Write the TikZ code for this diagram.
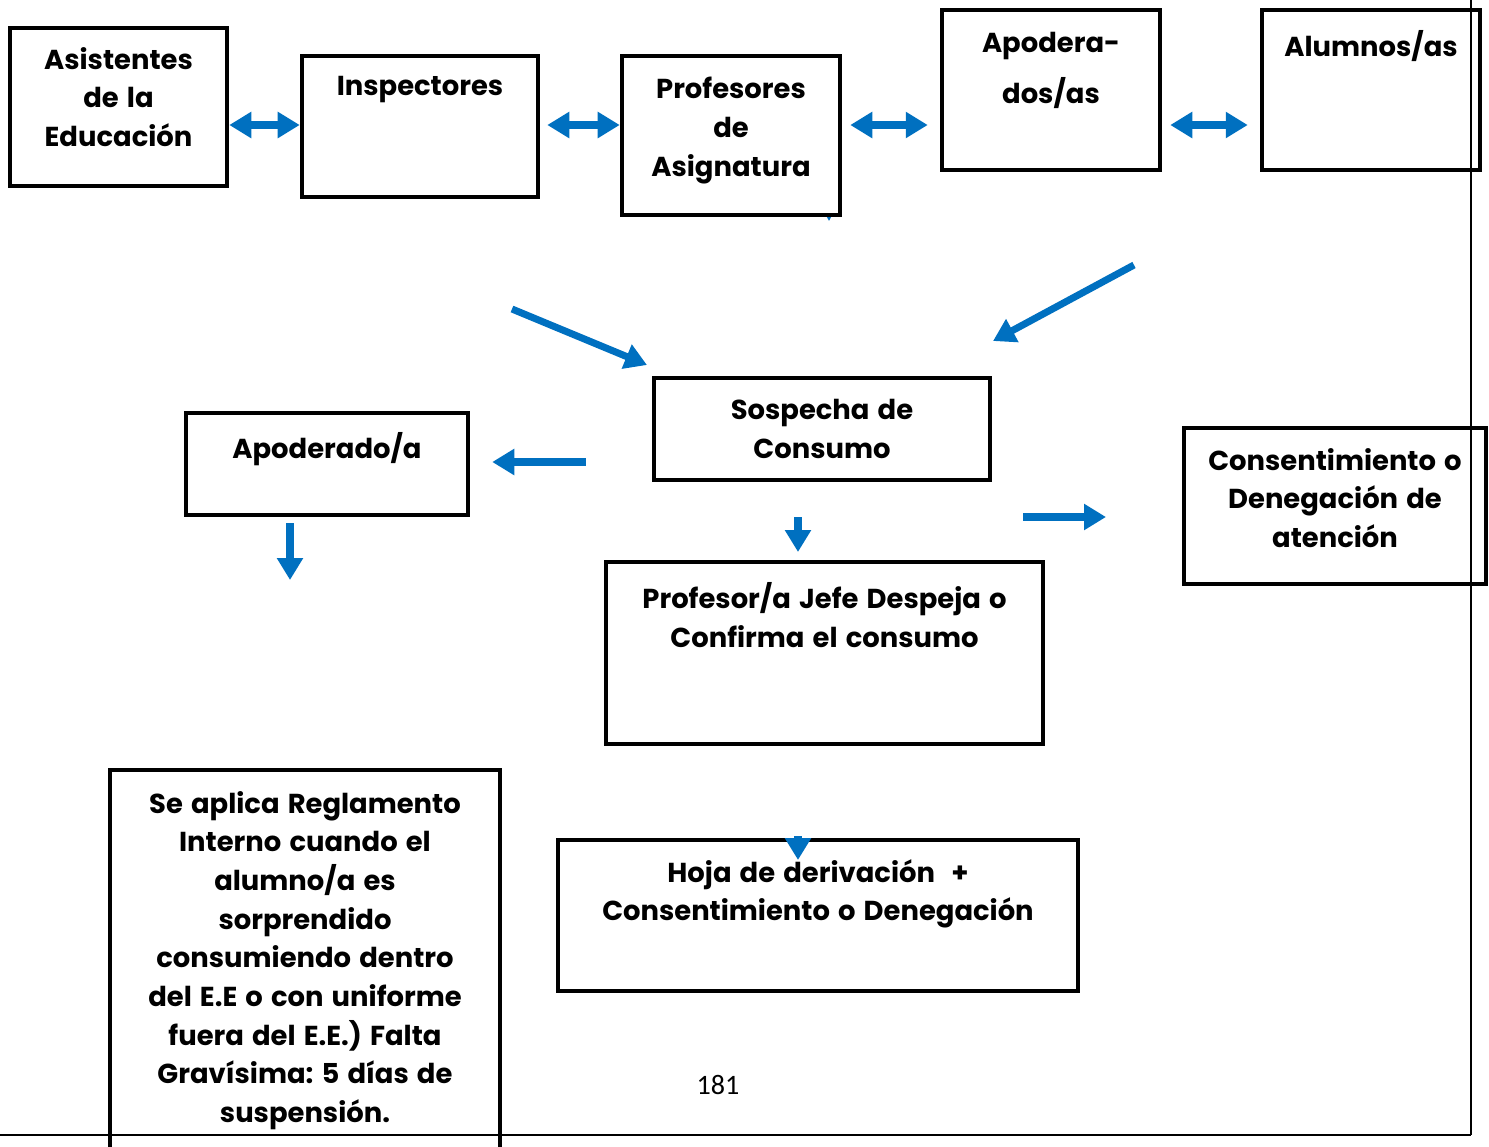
\documentclass[tikz,border=0pt]{standalone}
\usepackage{fontspec}
\setmainfont{Poppins}[WordSpace=1.4]
\newfontfamily\pagefont{Carlito}
\frenchspacing
\usetikzlibrary{arrows.meta}
\definecolor{flowblue}{RGB}{0,112,192}
\tikzstyle{box}=[draw,line width=2.6pt,fill=white,inner sep=0pt]
\tikzstyle{boxtext}=[anchor=north,align=center,inner sep=0pt,font=\bfseries\fontsize{15.6}{22}\selectfont]
\tikzstyle{flow}=[draw=flowblue,line width=4pt,-{Triangle[length=0.44cm,width=0.5cm]}]
\tikzstyle{flowboth}=[flow,{Triangle[length=0.44cm,width=0.5cm]}-{Triangle[length=0.44cm,width=0.5cm]}]
\tikzstyle{frame}=[line width=1.2pt]

\begin{document}
\begin{tikzpicture}[x=0.02cm,y=-0.02cm]
    \useasboundingbox (0,0) rectangle (1489,1147);

    % floating arrow ends
    \coordinate (hidA) at (829,180);
    \coordinate (hidB) at (829,221);
    \coordinate (diagLa) at (512,309);
    \coordinate (diagLb) at (647,365);
    \coordinate (diagRa) at (1134,265);
    \coordinate (diagRb) at (993,341);
    \coordinate (downMa) at (798,517);
    \coordinate (downMb) at (798,552);
    \coordinate (rightA) at (1023,517);
    \coordinate (rightB) at (1106,517);
    \coordinate (downLa) at (290,523);
    \coordinate (downLb) at (290,580);
    \coordinate (hojaA) at (798,836);
    \coordinate (hojaB) at (798,860);

    % arrow hidden under the boxes
    \draw[draw=flowblue,line width=1pt,-{Triangle[length=0.16cm,width=0.16cm]}] (hidA) -- (hidB);

    % top row
    \node[box,minimum width=4.34cm,minimum height=3.16cm] (asist) at (118.5,107) {};
    \node[boxtext] (asist-t) at (118.5,47) {Asistentes\\de la\\Educación};
    \node[box,minimum width=4.72cm,minimum height=2.82cm] (insp) at (420,126.5) {};
    \node[boxtext] (insp-t) at (420,76) {Inspectores};
    \node[box,minimum width=4.36cm,minimum height=3.18cm] (prof) at (731,135.5) {};
    \node[boxtext] (prof-t) at (731,77) {Profesores\\de\\Asignatura};
    \node[box,minimum width=4.36cm,minimum height=3.2cm] (apods) at (1051,90) {};
    \node[boxtext] (apods-t) at (1051,32) {Apodera-\\[0.24cm]dos/as};
    \node[box,minimum width=4.36cm,minimum height=3.2cm] (alum) at (1371,90) {};
    \node[boxtext] (alum-t) at (1371,30) {Alumnos/as};

    % middle row
    \node[box,minimum width=6.72cm,minimum height=2.04cm] (sosp) at (822,429) {};
    \node[boxtext] (sosp-t) at (822,399) {Sospecha de\\Consumo};
    \node[box,minimum width=5.64cm,minimum height=2.04cm] (apod) at (327,464) {};
    \node[boxtext] (apod-t) at (327,432) {Apoderado/a};
    \node[box,minimum width=6.04cm,minimum height=3.12cm] (cons) at (1335,506) {};
    \node[boxtext] (cons-t) at (1335,448) {Consentimiento o\\Denegación de\\atención};
    \node[box,minimum width=8.74cm,minimum height=3.64cm] (pjefe) at (824.5,653) {};
    \node[boxtext] (pjefe-t) at (824.5,582) {Profesor/a Jefe Despeja o\\Confirma el consumo};

    % bottom row
    \node[box,minimum width=10.4cm,minimum height=3.02cm] (hoja) at (818,915.5) {};
    \node[boxtext] (hoja-t) at (818,859) {Hoja de derivación\ \ +\\Consentimiento o Denegación};
    \node[box,minimum width=7.8cm,minimum height=7.8cm] (regl) at (305,965) {};
    \node[boxtext] (regl-t) at (305,791) {Se aplica Reglamento\\Interno cuando el\\alumno/a es\\sorprendido\\consumiendo dentro\\del E.E o con uniforme\\fuera del E.E.) Falta\\Gravísima: 5 días de\\suspensión.};

    % arrows
    \draw[flowboth] (asist.east |- 0,125) -- (insp.west |- 0,125);
    \draw[flowboth,shorten <=0.14cm] (insp.east |- 0,125) -- (prof.west |- 0,125);
    \draw[flowboth,shorten <=0.16cm,shorten >=0.24cm] (prof.east |- 0,125) -- (apods.west |- 0,125);
    \draw[flowboth,shorten <=0.16cm,shorten >=0.24cm] (apods.east |- 0,125) -- (alum.west |- 0,125);
    \draw[flow] (diagLa) -- (diagLb);
    \draw[flow] (diagRa) -- (diagRb);
    \draw[flow,shorten <=1.32cm,shorten >=0.44cm] (sosp.west |- 0,462) -- (apod.east |- 0,462);
    \draw[flow] (downMa) -- (downMb);
    \draw[flow] (rightA) -- (rightB);
    \draw[flow] (downLa) -- (downLb);
    \draw[flow] (hojaA) -- (hojaB);

    % page number
    \node[font=\pagefont\fontsize{16}{18}\selectfont] (pagenum) at (718,1085) {181};

    % page frame
    \draw[frame] (1471,0) -- (1471,1135);
    \draw[frame] (0,1135) -- (1471,1135);
\end{tikzpicture}
\end{document}
